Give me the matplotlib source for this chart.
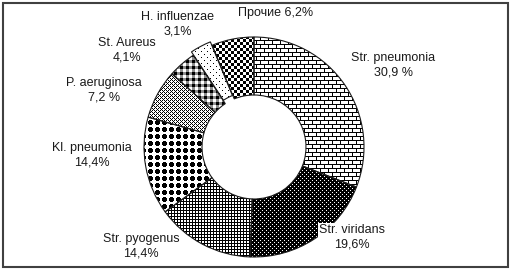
import numpy as np
import matplotlib
matplotlib.use("Agg")
import matplotlib.pyplot as plt
from matplotlib.patches import Rectangle

# ---- data ----
names = ["Str. pneumonia", "Str. viridans", "Str. pyogenus", "Kl. pneumonia",
         "P. aeruginosa", "St. Aureus", "H. influenzae", "Прочие"]
values = [30.9, 19.6, 14.4, 14.4, 7.2, 4.1, 3.1, 6.2]
label_texts = ["Str. pneumonia\n30,9 %", "Str. viridans\n19,6%", "Str. pyogenus\n14,4%",
               "Kl. pneumonia\n14,4%", "P. aeruginosa\n7,2 %", "St. Aureus\n4,1%",
               "H. influenzae\n3,1%", "Прочие 6,2%"]

# ---- layout / style ----
W, H, DPI = 512, 272, 100
CX, CY, R = 254, 147, 110          # pixel centre (from top) and radius
explode = [0, 0, 0, 0, 0, 0, 0.035, 0]
label_pos = [(1.264, 0.745), (0.891, -0.818), (-1.027, -0.90), (-1.473, -0.073),
             (-1.364, 0.518), (-1.155, 0.882), (-0.691, 1.118), (0.20, 1.218)]

plt.rcParams['font.family'] = ['Liberation Sans', 'DejaVu Sans']

fig = plt.figure(figsize=(W / DPI, H / DPI), dpi=DPI)
ax = fig.add_axes([0, 0, 1, 1])
xlim = (-CX / R, (W - CX) / R)
ylim = (-(H - CY) / R, CY / R)

wedges, _ = ax.pie(values, startangle=90, counterclock=False, radius=1.0,
                   explode=explode,
                   wedgeprops=dict(width=1 - 52 / R, fill=False,
                                   edgecolor='#1a1a1a', linewidth=0.8, zorder=3))

# ---- bitmap fill patterns ----
yy, xx = np.mgrid[0:H, 0:W]

def brick():
    img = np.ones((H, W))
    row = yy // 4
    img[(yy % 4) == 0] = 0
    off = (row % 2) * 4
    img[((xx + off) % 8) == 0] = 0
    return img

def dark_dots():
    img = np.zeros((H, W))
    img[((xx % 4) == 0) & ((yy % 4) == 0)] = 1
    img[((xx % 4) == 2) & ((yy % 4) == 2)] = 1
    return img

def small_grid():
    img = np.ones((H, W))
    img[(xx % 3) == 0] = 0
    img[(yy % 3) == 0] = 0
    return img

def big_dots():
    img = np.ones((H, W))
    dx = np.abs((xx % 7) - 3)
    dy = np.abs((yy % 7) - 3)
    img[(dx <= 2) & (dy <= 2) & ((dx + dy) <= 3)] = 0
    return img

def trellis():
    tile = np.array([[0, 1, 0, 1],
                     [1, 0, 1, 1],
                     [0, 1, 0, 1],
                     [1, 1, 1, 0]], float)
    return tile[yy % 4, xx % 4]

def gingham():
    img = np.full((H, W), 0.55)
    a = (xx % 6) < 3
    b = (yy % 6) < 3
    img[a & b] = 0
    img[~a & ~b] = 1
    return img

def sparse_dots():
    img = np.ones((H, W))
    img[((xx % 6) == 0) & ((yy % 6) == 0)] = 0
    img[((xx % 6) == 3) & ((yy % 6) == 3)] = 0
    return img

def checker():
    return (((xx // 3) + (yy // 3)) % 2).astype(float)

patterns = [brick, dark_dots, small_grid, big_dots, trellis, gingham, sparse_dots, checker]

for w, pat in zip(wedges, patterns):
    im = ax.imshow(pat(), cmap='gray', vmin=0, vmax=1, interpolation='none',
                   resample=False,
                   extent=(xlim[0], xlim[1], ylim[0], ylim[1]), origin='upper',
                   aspect='auto', zorder=2)
    im.set_clip_path(w)

for txt, (lx, ly) in zip(label_texts, label_pos):
    ax.text(lx, ly, txt, ha='center', va='center', fontsize=9, color='#1a1a1a',
            linespacing=1.3, zorder=4,
            bbox=dict(facecolor='white', edgecolor='none', pad=0.5))

ax.set_xlim(*xlim)
ax.set_ylim(*ylim)
ax.set_aspect('auto')
ax.axis('off')

fig.patches.append(Rectangle((3 / W, 5 / H), 505 / W, 264 / H, transform=fig.transFigure,
                             fill=False, edgecolor='#404040', linewidth=1.5))

fig.savefig("out.png", dpi=DPI)
